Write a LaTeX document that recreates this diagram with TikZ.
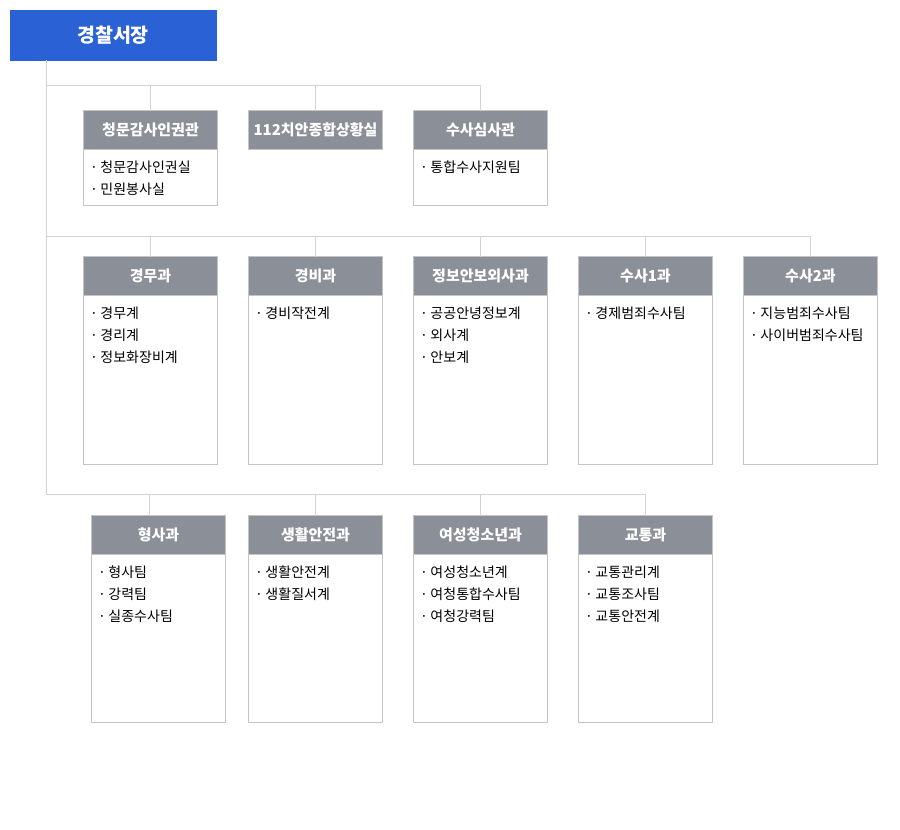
\documentclass[tikz,border=0pt]{standalone}
\usepackage{fontspec}
\setmainfont{Noto Sans CJK KR}
\definecolor{bossblue}{HTML}{2A62D6}
\definecolor{headgray}{HTML}{8B8F98}
\definecolor{bordergray}{HTML}{C4C4C4}
\definecolor{linegray}{HTML}{D3D3D3}
\tikzset{
  conn/.style={draw=linegray, line width=1pt},
  bossbox/.style={fill=bossblue, draw=bossblue, text=white, minimum width=206pt, minimum height=50pt, anchor=north west, inner sep=0pt, outer sep=0pt, font=\fontsize{19.5}{22}\selectfont\bfseries},
  headbox/.style={fill=headgray, draw=bordergray, line width=1pt, text=white, minimum width=134pt, minimum height=39pt, anchor=north west, inner sep=0pt, outer sep=0pt, font=\fontsize{15}{17}\selectfont\bfseries},
  bodybox/.style={draw=bordergray, line width=1pt, fill=white, minimum width=134pt, anchor=north west, inner sep=0pt, outer sep=0pt},
  itemtext/.style={anchor=base west, inner sep=0pt, outer sep=0pt, font=\fontsize{14}{16}\selectfont, text=black}
}
% name, x, y, title, body height, items
\newcommand\orgunit[6]{%
  \node[bodybox, minimum height=#5pt] (#1b) at (#2,#3) {};
  \node[headbox] (#1) at (#2,#3) {#4};
  \foreach \t [count=\i from 0] in {#6} {%
    \node[itemtext] at (#2+4,#3+62+22*\i) {\makebox[13pt]{·}\t};
  }%
}
\newcommand\orghead[4]{%
  \node[headbox] (#1) at (#2,#3) {#4};
}
\begin{document}
\begin{tikzpicture}[x=1pt,y=-1pt]
  \useasboundingbox[fill=white] (0,0) rectangle (900,830);

  \coordinate (j1) at (46.5,85.5);
  \coordinate (j2) at (46.5,236.5);
  \coordinate (j3) at (46.5,494.5);

  \node[bossbox] (boss) at (10,10) {경찰서장};

  % Row 1
  \orgunit{a1}{83.5}{110.5}{청문감사인권관}{95}{청문감사인권실,민원봉사실}
  \orghead{a2}{248.5}{110.5}{112치안종합상황실}
  \orgunit{a3}{413.5}{110.5}{수사심사관}{95}{통합수사지원팀}

  % Row 2
  \orgunit{b1}{83.5}{256.5}{경무과}{208}{경무계,경리계,정보화장비계}
  \orgunit{b2}{248.5}{256.5}{경비과}{208}{경비작전계}
  \orgunit{b3}{413.5}{256.5}{정보안보외사과}{208}{공공안녕정보계,외사계,안보계}
  \orgunit{b4}{578.5}{256.5}{수사1과}{208}{경제범죄수사팀}
  \orgunit{b5}{743.5}{256.5}{수사2과}{208}{지능범죄수사팀,사이버범죄수사팀}

  % Row 3
  \orgunit{c1}{91.5}{515.5}{형사과}{207}{형사팀,강력팀,실종수사팀}
  \orgunit{c2}{248.5}{515.5}{생활안전과}{207}{생활안전계,생활질서계}
  \orgunit{c3}{413.5}{515.5}{여성청소년과}{207}{여성청소년계,여청통합수사팀,여청강력팀}
  \orgunit{c4}{578.5}{515.5}{교통과}{207}{교통관리계,교통조사팀,교통안전계}

  % trunk
  \draw[conn] ([xshift=36.5pt]boss.south west) -- (j3);
  % row 1
  \draw[conn] (j1) -| (a3.north);
  \draw[conn] (a1.north) -- (a1.north |- j1);
  \draw[conn] (a2.north) -- (a2.north |- j1);
  % row 2
  \draw[conn] (j2) -| (b5.north);
  \foreach \n in {b1,b2,b3,b4} \draw[conn] (\n.north) -- (\n.north |- j2);
  % row 3
  \draw[conn] (j3) -| (c4.north);
  \draw[conn] ([xshift=-9pt]c1.north) -- ([xshift=-9pt]c1.north |- j3);
  \foreach \n in {c2,c3} \draw[conn] (\n.north) -- (\n.north |- j3);
\end{tikzpicture}
\end{document}
